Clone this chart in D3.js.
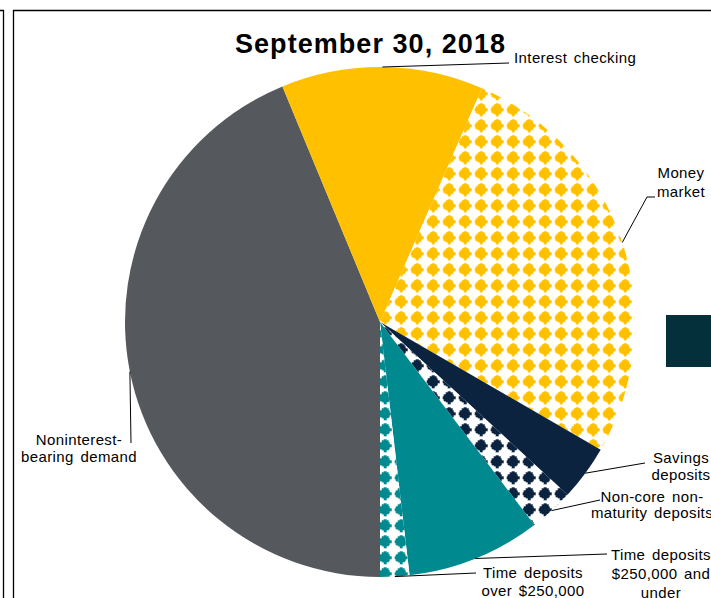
<!DOCTYPE html>
<head>
  <meta charset="utf-8">
  <script src="https://d3js.org/d3.v7.min.js"></script>
  <style>
    body { margin:0; background:#fff; }
    text { font-family: "Liberation Sans", Arial, sans-serif; }
  </style>
</head>

<body>
  <svg id="pieSVG" width="711" height="598"></svg>
  <script>
    // data (share of deposits, %)
    const title = "September 30, 2018";
    const categories = ["Noninterest-bearing demand", "Interest checking", "Money market",
      "Savings deposits", "Non-core non-maturity deposits",
      "Time deposits $250,000 and under", "Time deposits over $250,000"];
    const shares = [43.75, 12.8, 26.8, 3.5, 2.8, 8.5, 1.85];
    const labelLines = [["Noninterest-", "bearing demand"], ["Interest checking"], ["Money", "market"],
      ["Savings", "deposits"], ["Non-core non-", "maturity deposits"],
      ["Time deposits", "$250,000 and", "under"], ["Time deposits", "over $250,000"]];

    // styles: solid colour or diamond pattern
    const fills = ["#55585c", "#ffc000", "url(#dmYellow)", "#0c233f", "url(#dmNavy)", "#00898f", "url(#dmTeal)"];
    // label placement: text anchor point + leader bends
    const labelPos = [
      {x: 79, y: 445, lh: 17, anchor: "middle", bend: [[131, 443]]},
      {x: 514, y: 63, lh: 17, anchor: "start", bend: [[509, 63]]},
      {x: 681, y: 178, lh: 19, anchor: "middle", bend: [[647, 197], [655, 197]]},
      {x: 681, y: 463, lh: 17, anchor: "middle", bend: [[645, 463]]},
      {x: 652, y: 502, lh: 16, anchor: "middle", bend: [[600, 500]]},
      {x: 661, y: 560, lh: 19, anchor: "middle", bend: [[607, 554]]},
      {x: 533, y: 578, lh: 18, anchor: "middle", bend: [[476, 573]]}
    ];

    const cx = 380, cy = 322, r = 255;
    const svg = d3.select("#pieSVG");

    // diamond patterns (stepped, like the office fill)
    const defs = svg.append("defs");
    const diamond = "M6.5,1.5H9.5V3H11.5V4.5H13V6.5H14.5V9.5H13V11.5H11.5V13H9.5V14.5H6.5V13H4.5V11.5H3V9.5H1.5V6.5H3V4.5H4.5V3H6.5Z";
    [["dmYellow", "#ffc000"], ["dmNavy", "#0c233f"], ["dmTeal", "#00898f"]].forEach(([id, c]) => {
      const p = defs.append("pattern").attr("id", id)
        .attr("patternUnits", "userSpaceOnUse")
        .attr("x", -3.3).attr("y", 3.3).attr("width", 16).attr("height", 16);
      p.append("rect").attr("width", 16).attr("height", 16).attr("fill", "#fff");
      p.append("path").attr("d", diamond).attr("fill", c).attr("shape-rendering", "crispEdges");
    });

    // frame bits from the slide
    svg.append("path").attr("d", "M0,10.5H3.5V598").attr("fill", "none").attr("stroke", "#000").attr("stroke-width", 1.3);
    svg.append("path").attr("d", "M13.5,598V10.5H711").attr("fill", "none").attr("stroke", "#000").attr("stroke-width", 1.3);
    // piece of the neighbouring legend
    svg.append("rect").attr("x", 666).attr("y", 315).attr("width", 50).attr("height", 52).attr("fill", "#03303a");

    const pie = d3.pie().sort(null).value(d => d).startAngle(Math.PI).endAngle(3 * Math.PI);
    const arcs = pie(shares);
    const arc = d3.arc().innerRadius(0).outerRadius(r);

    const g = svg.append("g").attr("transform", `translate(${cx},${cy})`);
    g.selectAll("path")
      .data(arcs)
      .join("path")
      .attr("d", arc)
      .attr("fill", (d, i) => fills[i]);

    // leader lines
    const edge = a => {
      const m = (a.startAngle + a.endAngle) / 2;
      return [cx + r * Math.sin(m), cy - r * Math.cos(m)];
    };
    svg.append("g").selectAll("path")
      .data(arcs)
      .join("path")
      .attr("d", (d, i) => d3.line()([edge(d), ...labelPos[i].bend]))
      .attr("fill", "none")
      .attr("stroke", "#000")
      .attr("stroke-width", 1);

    // labels
    svg.append("g").selectAll("text")
      .data(categories)
      .join("text")
      .attr("text-anchor", (d, i) => labelPos[i].anchor)
      .style("font-size", "15px")
      .style("letter-spacing", "0.4px")
      .style("word-spacing", "2px")
      .attr("fill", "#000")
      .each(function (d, i) {
        d3.select(this).selectAll("tspan")
          .data(labelLines[i])
          .join("tspan")
          .attr("x", labelPos[i].x)
          .attr("y", (t, j) => labelPos[i].y + j * labelPos[i].lh)
          .text(t => t);
      });

    svg.append("text")
      .attr("x", 235).attr("y", 53)
      .attr("textLength", 270).attr("lengthAdjust", "spacing")
      .style("font-size", "27px").style("font-weight", "bold")
      .text(title);
  </script>
</body>
